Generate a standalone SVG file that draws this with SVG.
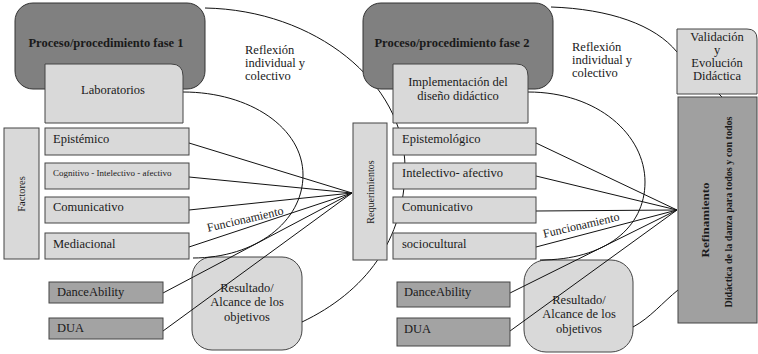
<svg xmlns="http://www.w3.org/2000/svg" width="758" height="354" viewBox="0 0 758 354" font-family="'Liberation Serif', 'DejaVu Serif', serif">
<style>
text{font-family:'Liberation Serif','DejaVu Serif',serif;fill:#1a1a1a;font-size:12.5px}
.dark{fill:#808080;stroke:#333;stroke-width:1}
.light{fill:#d9d9d9;stroke:#444;stroke-width:1}
.mid{fill:#a3a3a3;stroke:#444;stroke-width:1}
.b{font-weight:bold}
.c{text-anchor:middle}
.con{fill:none;stroke:#111;stroke-width:1}
</style>
<rect width="758" height="354" fill="#fff"/>
<g id="resultado1"><rect class="light" x="192" y="257" width="110" height="93" rx="20"/><text class="c" x="247" y="292">Resultado/</text><text class="c" x="247" y="306">Alcance de los</text><text class="c" x="247" y="321">objetivos</text></g>
<g id="resultado2"><rect class="light" x="524" y="260" width="109" height="92" rx="22"/><text class="c" x="579" y="304">Resultado/</text><text class="c" x="579" y="318">Alcance de los</text><text class="c" x="579" y="333">objetivos</text></g>
<g id="connectors" class="con">
<path d="M205,8 C315,10 405,82 405,168 C405,240 365,292 302,322"/>
<path d="M183,92 C250,92 303,128 303,175 C303,222 255,258 193,258"/>
<path d="M189,143 L352,193 M189,177 L352,193 M189,210 L352,193 M189,247 L352,193 M163,293 L352,193 M163,331 L352,193"/>
<path d="M551,7 C610,9 655,25 677,52"/>
<path d="M528,92 C598,92 645,135 645,182 C645,228 605,260 540,260"/>
<path d="M536,143 L677,210 M536,176 L677,210 M536,211 L677,210 M536,247 L677,210 M510,293 L677,210 M510,331 L677,210"/>
<path d="M633,327 C650,318 663,302 678,290"/>
<path d="M719,94 L722,97"/>
</g>
<g id="proceso1"><rect class="dark" x="15" y="3" width="190" height="86" rx="18"/><text class="c b" x="106" y="47">Proceso/procedimiento fase 1</text></g>
<g id="laboratorios"><path class="light" d="M45,64 H171 Q183,64 183,76 V123 H45 Z"/><text class="c" x="113" y="94">Laboratorios</text></g>
<g id="factores"><rect class="light" x="4" y="128" width="35" height="131"/><text class="c" transform="translate(25,194) rotate(-90)" style="font-size:10.5px">Factores</text></g>
<g id="epistemico"><rect class="light" x="45" y="128" width="144" height="27"/><text x="53" y="143">Epistémico</text></g>
<g id="cognitivo"><rect class="light" x="45" y="163" width="144" height="26"/><text x="53" y="176" style="font-size:9px">Cognitivo - Intelectivo - afectivo</text></g>
<g id="comunicativo1"><rect class="light" x="45" y="197" width="144" height="26"/><text x="53" y="211">Comunicativo</text></g>
<g id="mediacional"><rect class="light" x="45" y="233" width="144" height="26"/><text x="53" y="248">Mediacional</text></g>
<g id="danceability1"><rect class="mid" x="49" y="282" width="114" height="21"/><text x="57" y="296">DanceAbility</text></g>
<g id="dua1"><rect class="mid" x="49" y="318" width="114" height="21"/><text x="57" y="332">DUA</text></g>
<g id="reflexion1"><text x="245" y="54">Reflexión</text><text x="245" y="67">individual y</text><text x="245" y="80">colectivo</text></g>
<g id="funcionamiento1"><text class="c" style="font-size:12px" transform="translate(246,223) rotate(-13)">Funcionamiento</text></g>
<g id="requerimientos"><rect class="light" x="353" y="123" width="34" height="137"/><text class="c" transform="translate(374,192) rotate(-90)" style="font-size:10px">Requerimientos</text></g>
<g id="proceso2"><rect class="dark" x="363" y="3" width="190" height="86" rx="18"/><text class="c b" x="452" y="47">Proceso/procedimiento fase 2</text></g>
<g id="implementacion"><path class="light" d="M393,64 H516 Q528,64 528,76 V123 H393 Z"/><text class="c" x="458" y="86">Implementación del</text><text class="c" x="458" y="100">diseño didáctico</text></g>
<g id="epistemologico"><rect class="light" x="393" y="128" width="143" height="27"/><text x="402" y="143">Epistemológico</text></g>
<g id="intelectivo"><rect class="light" x="393" y="163" width="143" height="26"/><text x="402" y="177">Intelectivo- afectivo</text></g>
<g id="comunicativo2"><rect class="light" x="393" y="197" width="143" height="26"/><text x="402" y="211">Comunicativo</text></g>
<g id="sociocultural"><rect class="light" x="393" y="233" width="143" height="26"/><text x="402" y="248">sociocultural</text></g>
<g id="danceability2"><rect class="mid" x="397" y="282" width="113" height="25"/><text x="404" y="296">DanceAbility</text></g>
<g id="dua2"><rect class="mid" x="397" y="318" width="113" height="28"/><text x="404" y="333">DUA</text></g>
<g id="reflexion2"><text x="572" y="51">Reflexión</text><text x="572" y="64">individual y</text><text x="572" y="77">colectivo</text></g>
<g id="funcionamiento2"><text class="c" style="font-size:12px" transform="translate(582,229) rotate(-13)">Funcionamiento</text></g>
<g id="validacion"><path class="light" d="M677,29 H747 Q757,29 757,39 V94 H677 Z"/><text class="c" x="717" y="41">Validación</text><text class="c" x="717" y="54">y</text><text class="c" x="717" y="67">Evolución</text><text class="c" x="717" y="80">Didáctica</text></g>
<g id="refinamiento"><rect x="678" y="97" width="79" height="226" fill="#a0a0a0" stroke="#444"/><text class="c b" style="font-size:11px" transform="translate(709,220) rotate(-90)" textLength="75" lengthAdjust="spacingAndGlyphs">Refinamiento</text><text class="c b" transform="translate(732,212) rotate(-90)" style="font-size:10.5px" textLength="191" lengthAdjust="spacingAndGlyphs">Didáctica de la danza para todos y con todos</text></g>
</svg>
